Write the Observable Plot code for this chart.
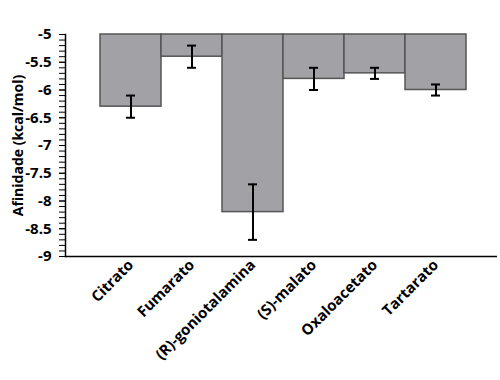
<!DOCTYPE html>
<html>
<head>
<meta charset="utf-8">
<script src="https://cdn.jsdelivr.net/npm/d3@7"></script>
<script src="https://cdn.jsdelivr.net/npm/@observablehq/plot@0.6"></script>
<style>
  html, body { margin: 0; padding: 0; background: #fff; }
  svg g[aria-label="y-axis label"] text { font-size: 14px; }
</style>
</head>
<body>
<div id="chart"></div>
<script>
const categories = ["Citrato", "Fumarato", "(R)-goniotalamina", "(S)-malato", "Oxaloacetato", "Tartarato"];
const affinity = [-6.3, -5.4, -8.2, -5.8, -5.7, -6.0];
const errors = [0.2, 0.2, 0.5, 0.2, 0.1, 0.1];
const yTicks = [-9, -8.5, -8, -7.5, -7, -6.5, -6, -5.5, -5];
const yLabel = "Afinidade (kcal/mol)";

const data = categories.map((c, i) => ({name: c, value: affinity[i], err: errors[i]}));
const minorTicks = d3.range(-90, -49, 1).map(d => d / 10);

const plot = Plot.plot({
  width: 500,
  height: 380,
  marginTop: 34,
  marginBottom: 124,
  marginLeft: 65,
  marginRight: 3,
  style: {fontFamily: "'Open Sans', sans-serif", fontSize: "15px", fontWeight: "bold", color: "#000", background: "#fff"},
  x: {domain: categories, paddingInner: 0, paddingOuter: 0.5, align: 0.53},
  y: {domain: [-9, -5]},
  marks: [
    Plot.barY(data, {x: "name", y1: -5, y2: "value", fill: "#a2a1a6", stroke: "#555", strokeWidth: 1.5}),
    Plot.ruleX(data, {x: "name", y1: d => d.value - d.err, y2: d => d.value + d.err, stroke: "#000", strokeWidth: 2}),
    Plot.tickY(data, {x: "name", y: d => d.value - d.err, stroke: "#000", strokeWidth: 2, insetLeft: 26, insetRight: 26}),
    Plot.tickY(data, {x: "name", y: d => d.value + d.err, stroke: "#000", strokeWidth: 2, insetLeft: 26, insetRight: 26}),
    Plot.axisY(minorTicks, {tickSize: 6, text: null, label: null, stroke: "#000", strokeWidth: 1}),
    Plot.axisY(yTicks, {tickSize: 6, tickPadding: 8, tickFormat: d => String(d), label: null, stroke: "#000", fontSize: 15, fontWeight: "bold"}),
    Plot.axisY({label: yLabel, labelArrow: "none", labelAnchor: "center", labelOffset: 52, tickSize: 0, text: null, fontSize: 14, fontWeight: "bold"}),
    Plot.axisX({tickSize: 0, tickRotate: -45, tickPadding: 6, label: null, fontSize: 15, fontWeight: "bold"}),
    Plot.frame({anchor: "left", stroke: "#000", strokeWidth: 1.5}),
    Plot.ruleY([-9], {stroke: "#000", strokeWidth: 1.5})
  ]
});
document.getElementById("chart").appendChild(plot);
</script>
</body>
</html>
